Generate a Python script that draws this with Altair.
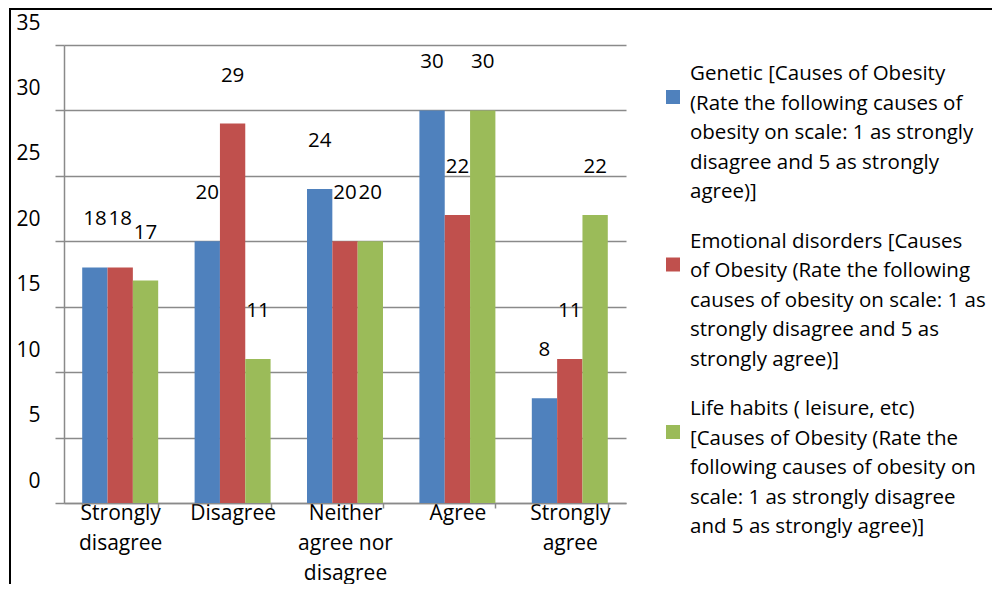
import json
import altair as alt
import pandas as pd

# ---------------- data ----------------
CATEGORIES = ["Strongly disagree", "Disagree", "Neither agree nor disagree", "Agree", "Strongly agree"]
CATEGORY_LINES = [["Strongly", "disagree"], ["Disagree"], ["Neither", "agree nor", "disagree"],
                  ["Agree"], ["Strongly", "agree"]]

SERIES = [
    "Genetic [Causes of Obesity (Rate the following causes of obesity on scale: 1 as strongly disagree and 5 as strongly agree)]",
    "Emotional disorders [Causes of Obesity (Rate the following causes of obesity on scale: 1 as strongly disagree and 5 as strongly agree)]",
    "Life habits ( leisure, etc) [Causes of Obesity (Rate the following causes of obesity on scale: 1 as strongly disagree and 5 as strongly agree)]",
]
SERIES_LINES = [
    ["Genetic [Causes of Obesity", "(Rate the following causes of", "obesity on scale: 1 as strongly",
     "disagree and 5 as strongly", "agree)]"],
    ["Emotional disorders [Causes", "of Obesity (Rate the following", "causes of obesity on scale: 1 as",
     "strongly disagree and 5 as", "strongly agree)]"],
    ["Life habits ( leisure, etc)", "[Causes of Obesity (Rate the", "following causes of obesity on",
     "scale: 1 as strongly disagree", "and 5 as strongly agree)]"],
]
COLORS = ["#4F81BD", "#C0504D", "#9BBB59"]

GENETIC = [18, 20, 24, 30, 8]
EMOTIONAL = [18, 29, 20, 22, 11]
LIFE_HABITS = [17, 11, 20, 30, 22]
Y_TICKS = [0, 5, 10, 15, 20, 25, 30, 35]

rows = []
for s_name, vals in zip(SERIES, [GENETIC, EMOTIONAL, LIFE_HABITS]):
    for c, v in zip(CATEGORIES, vals):
        rows.append({"category": c, "series": s_name, "value": v})
df = pd.DataFrame(rows)

legend_df = pd.DataFrame({"series": SERIES, "label": ["|".join(l) for l in SERIES_LINES]})

cat_map = json.dumps(dict(zip(CATEGORIES, CATEGORY_LINES)))

FONT = "Open Sans"
GRAY = "#8a8a8a"

x_enc = alt.X(
    "category:N", sort=CATEGORIES,
    scale=alt.Scale(paddingInner=0.324, paddingOuter=0.162),
    axis=alt.Axis(
        title=None, labelAngle=0, labelExpr=cat_map + "[datum.label]",
        labelFont=FONT, labelFontSize=21, labelColor="black", labelLineHeight=30,
        labelBaseline="top", labelPadding=-6, tickSize=5, tickBand="extent",
        tickColor=GRAY, tickWidth=1.5, domainColor=GRAY, domainWidth=1.5, grid=False,
    ),
)
xo_enc = alt.XOffset("series:N", sort=SERIES, scale=alt.Scale(paddingInner=0, paddingOuter=0))
y_enc = alt.Y(
    "value:Q",
    scale=alt.Scale(domain=[0, 35], nice=False),
    axis=alt.Axis(
        title=None, values=Y_TICKS, labelFont=FONT, labelFontSize=21, labelColor="black",
        labelPadding=15, tickSize=9, tickColor=GRAY, tickWidth=1.5, gridColor=GRAY,
        gridWidth=1.5, domainColor=GRAY, domainWidth=1.5, labelOffset=-22,
        labelFlush=False, labelOverlap=False, labelBound=False,
    ),
)
color_enc = alt.Color("series:N", scale=alt.Scale(domain=SERIES, range=COLORS), legend=None)

bars = alt.Chart(df).mark_bar().encode(x=x_enc, xOffset=xo_enc, y=y_enc, color=color_enc)
labels = alt.Chart(df).mark_text(
    dy=-48, fontSize=20.5, font=FONT, color="black", baseline="middle"
).encode(x=x_enc, xOffset=xo_enc, y=y_enc, text="value:Q")
plot = alt.layer(bars, labels)

# legend drawn as its own layer (symbols + wrapped labels)
leg_y = alt.Y("series:N", sort=SERIES, axis=None,
              scale=alt.Scale(type="point", domain=SERIES, range=[52, 387], padding=0))
leg_sym = alt.Chart(legend_df).mark_square(size=196, opacity=1, filled=True).encode(
    x=alt.value(609), y=leg_y, color=color_enc)
leg_txt = alt.Chart(legend_df).mark_text(
    align="left", baseline="top", lineBreak="|", lineHeight=29.5, fontSize=20.5, font=FONT,
    color="black", dy=-33,
).encode(x=alt.value(626), y=leg_y, text="label:N")
legend = alt.layer(leg_sym, leg_txt)

frame_df = pd.DataFrame({"k": [0]})
left_border = alt.Chart(frame_df).mark_rule(color="black", strokeWidth=2).encode(
    x=alt.value(-54), y=alt.value(-36), y2=alt.value(560))
top_border = alt.Chart(frame_df).mark_rule(color="black", strokeWidth=2).encode(
    x=alt.value(-55), x2=alt.value(940), y=alt.value(-36))

chart = alt.layer(plot, legend, left_border, top_border).resolve_scale(
    y="independent"
).properties(
    width=562, height=458,
    autosize=alt.AutoSizeParams(type="none"),
    padding={"left": 56, "top": 37, "right": 366, "bottom": 81},
    background="white",
).configure_view(stroke=None)

chart.save("out.html", embed_options={"renderer": "svg", "actions": False})
